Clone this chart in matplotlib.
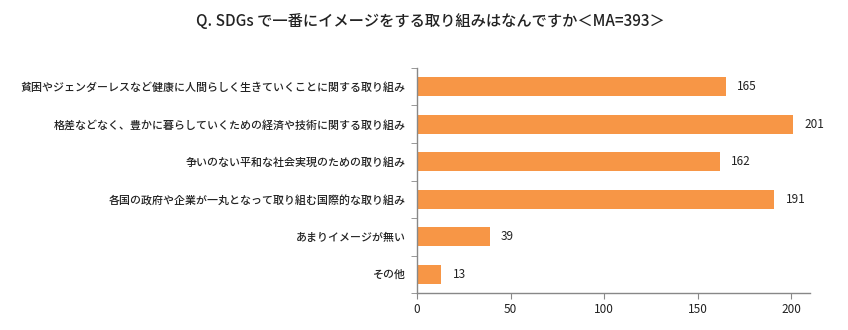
import numpy as np
import matplotlib.pyplot as plt
from matplotlib.ticker import FixedLocator

plt.rcParams['font.family'] = ['Noto Sans CJK JP', 'DejaVu Sans']

# データ
categories = [
    '貧困やジェンダーレスなど健康に人間らしく生きていくことに関する取り組み',
    '格差などなく、豊かに暮らしていくための経済や技術に関する取り組み',
    '争いのない平和な社会実現のための取り組み',
    '各国の政府や企業が一丸となって取り組む国際的な取り組み',
    'あまりイメージが無い',
    'その他',
]
values = [165, 201, 162, 191, 39, 13]
title = 'Q. SDGs で一番にイメージをする取り組みはなんですか＜MA=393＞'

fig = plt.figure(figsize=(8.48, 3.3), dpi=100)
ax = fig.add_axes([0.4917, 0.112, 0.4633, 0.682])

y = np.arange(len(categories))
ax.barh(y, values, height=0.5, color='#F79646', edgecolor='none')

# 値ラベル
for yi, v in zip(y, values):
    ax.text(v + 6, yi, str(v), va='center', ha='left', fontsize=8.5, color='#222222')

ax.set_ylim(len(categories) - 0.5, -0.5)
ax.set_xlim(0, 210)
ax.set_xticks([0, 50, 100, 150, 200])
ax.set_yticks(y)
ax.set_yticklabels(categories, fontsize=7.9, color='#222222', fontweight='medium')
ax.tick_params(axis='y', length=0, pad=8)
ax.yaxis.set_minor_locator(FixedLocator(np.arange(-0.5, len(categories), 1)))
ax.tick_params(axis='y', which='minor', length=4, color='#888888')
ax.tick_params(axis='x', length=4, color='#888888', labelsize=8.5, labelcolor='#222222')

for s in ['top', 'right']:
    ax.spines[s].set_visible(False)
for s in ['left', 'bottom']:
    ax.spines[s].set_color('#888888')
    ax.spines[s].set_linewidth(1)

fig.text(0.507, 0.935, title, ha='center', va='center', fontsize=11, color='#222222',
         fontweight='medium')

fig.savefig('out.png', dpi=100)
